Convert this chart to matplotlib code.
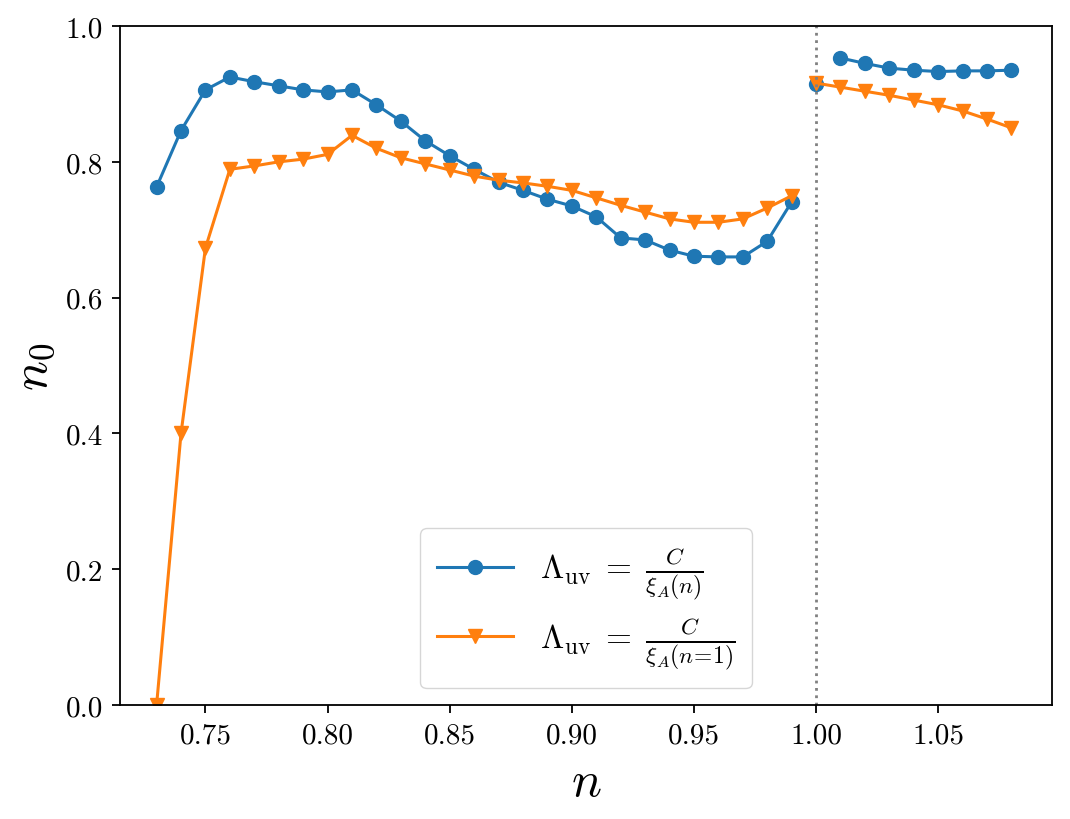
import numpy as np
import matplotlib
matplotlib.use("Agg")
import matplotlib.pyplot as plt

plt.rcParams["font.family"] = "serif"
plt.rcParams["font.serif"] = ["cmr10"]
plt.rcParams["mathtext.fontset"] = "cm"
plt.rcParams["axes.formatter.use_mathtext"] = True

# data
n_low = [0.73, 0.74, 0.75, 0.76, 0.77, 0.78, 0.79, 0.80, 0.81, 0.82, 0.83, 0.84, 0.85, 0.86,
         0.87, 0.88, 0.89, 0.90, 0.91, 0.92, 0.93, 0.94, 0.95, 0.96, 0.97, 0.98, 0.99]
blue_low = [0.763, 0.846, 0.906, 0.925, 0.918, 0.912, 0.906, 0.903, 0.906, 0.884, 0.860, 0.831,
            0.809, 0.789, 0.770, 0.758, 0.745, 0.735, 0.719, 0.688, 0.685, 0.670, 0.661, 0.660,
            0.660, 0.683, 0.741]
orange_low = [0.0, 0.400, 0.673, 0.789, 0.794, 0.800, 0.804, 0.811, 0.839, 0.820, 0.806, 0.797,
              0.788, 0.779, 0.773, 0.769, 0.764, 0.758, 0.747, 0.736, 0.726, 0.716, 0.711, 0.711,
              0.716, 0.732, 0.750]

n_one = [1.00]
blue_one = [0.915]

n_high = [1.01, 1.02, 1.03, 1.04, 1.05, 1.06, 1.07, 1.08]
blue_high = [0.953, 0.945, 0.938, 0.935, 0.933, 0.934, 0.934, 0.935]

n_high_o = [1.00, 1.01, 1.02, 1.03, 1.04, 1.05, 1.06, 1.07, 1.08]
orange_high = [0.916, 0.910, 0.904, 0.898, 0.891, 0.884, 0.875, 0.863, 0.850]

blue = "#1f77b4"
orange = "#ff7f0e"

fig = plt.figure(figsize=(10.7, 8.2), dpi=100)
ax = fig.add_axes([0.1121, 0.139, 0.8711, 0.828])

lw = 2.2
ms = 10
ax.plot(n_low, blue_low, "-o", color=blue, lw=lw, ms=ms,
        label=r"$\Lambda_{\mathrm{uv}}\;=\;\frac{C}{\xi_A(n)}$")
ax.plot(n_low, orange_low, "-v", color=orange, lw=lw, ms=ms,
        label=r"$\Lambda_{\mathrm{uv}}\;=\;\frac{C}{\xi_A(n\!=\!1)}$")
ax.plot(n_one, blue_one, "o", color=blue, ms=ms)
ax.plot(n_high, blue_high, "-o", color=blue, lw=lw, ms=ms)
ax.plot(n_high_o, orange_high, "-v", color=orange, lw=lw, ms=ms)

ax.axvline(1.0, color="gray", linestyle=":", lw=2)

ax.set_xlim(0.715, 1.0966)
ax.set_ylim(0, 1)
ax.set_xticks([0.75, 0.80, 0.85, 0.90, 0.95, 1.00, 1.05])
ax.set_xticklabels(["0.75", "0.80", "0.85", "0.90", "0.95", "1.00", "1.05"])
ax.set_yticks([0.0, 0.2, 0.4, 0.6, 0.8, 1.0])
ax.set_yticklabels(["0.0", "0.2", "0.4", "0.6", "0.8", "1.0"])
ax.tick_params(labelsize=21, width=1.3, length=5.5, pad=6.5)
for s in ax.spines.values():
    s.set_linewidth(1.3)

ax.set_xlabel(r"$n$", fontsize=36)
ax.set_ylabel(r"$n_0$", fontsize=36)
ax.xaxis.set_label_coords(0.5, -0.08)
ax.yaxis.set_label_coords(-0.068, 0.5)

ax.legend(loc="lower center", fontsize=24, borderpad=0.5, handlelength=2.3,
          labelspacing=0.35, borderaxespad=0.5)

fig.savefig("out.png", dpi=100)
